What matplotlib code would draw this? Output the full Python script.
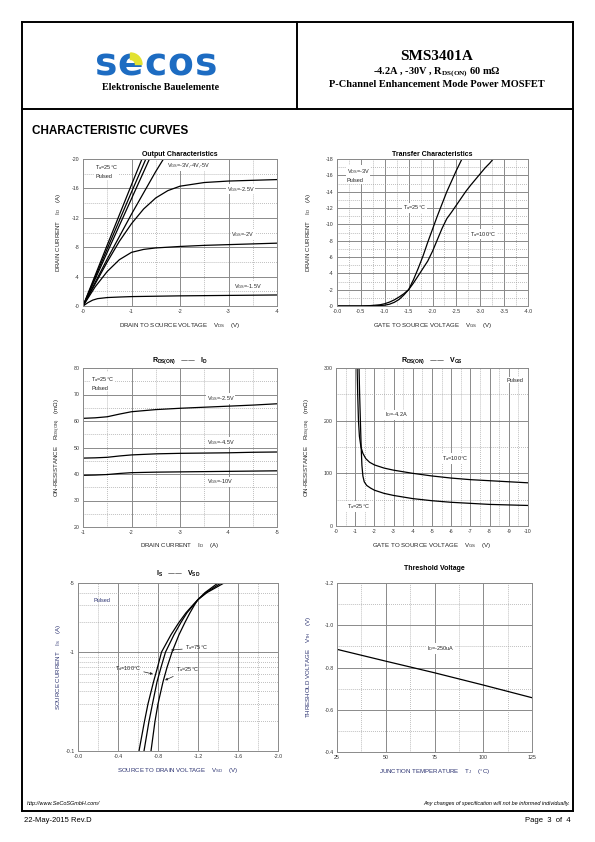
import numpy as np
import matplotlib
matplotlib.use('Agg')
import matplotlib.pyplot as plt
from matplotlib.patches import Wedge
from matplotlib.ticker import FixedLocator, FixedFormatter, NullFormatter

plt.rcParams['font.family'] = ['Liberation Sans', 'DejaVu Sans']
plt.rcParams['mathtext.default'] = 'regular'
plt.rcParams['axes.unicode_minus'] = False

W, H = 595, 842

# ---------------- data ----------------
# Output characteristics (VDS in V, ID in A)
out_vds_steep = [0, -0.5, -1.0, -1.5]
out_id_steep1 = [0, -8.3, -16.5, -24.6]
out_id_steep2 = [0, -7.8, -15.5, -23.1]
out_id_steep3 = [0, -7.3, -14.6, -21.9]
out_vds_vgs3 = [0, -0.5, -1.0, -1.5, -1.8]
out_id_vgs3 = [0, -6.4, -12.5, -18.3, -21.5]
out_vds_vgs25 = [0, -0.25, -0.5, -0.75, -1.0, -1.25, -1.5, -1.75, -2.0, -2.5, -3.0, -3.5, -4.0]
out_id_vgs25 = [0, -3.0, -6.0, -8.8, -11.2, -13.2, -14.7, -15.7, -16.3, -16.8, -17.0, -17.1, -17.2]
out_vds_vgs2 = [0, -0.25, -0.5, -0.75, -1.0, -1.25, -1.5, -2.0, -2.5, -3.0, -3.5, -4.0]
out_id_vgs2 = [0, -2.6, -4.7, -6.3, -7.3, -7.7, -7.9, -8.1, -8.25, -8.35, -8.45, -8.55]
out_vds_vgs15 = [0, -0.1, -0.2, -0.3, -0.5, -0.75, -1.0, -2.0, -3.0, -4.0]
out_id_vgs15 = [0, -0.45, -0.8, -1.0, -1.15, -1.22, -1.28, -1.38, -1.44, -1.5]

# Transfer characteristics (VGS in V, ID in A)
tr_vgs_25 = [0, -0.5, -0.8, -1.0, -1.1, -1.2, -1.3, -1.4, -1.5, -1.6, -1.7, -1.8, -1.9,
             -2.0, -2.1, -2.2, -2.3, -2.4, -2.5, -2.6, -2.65]
tr_id_25 = [0, 0, -0.02, -0.1, -0.22, -0.45, -0.8, -1.35, -2.0, -3.2, -4.6, -6.1, -7.8,
            -9.4, -11.0, -12.5, -14.0, -15.3, -16.6, -17.8, -18.4]
tr_vgs_100 = [0, -0.5, -0.7, -0.9, -1.0, -1.1, -1.2, -1.3, -1.4, -1.5, -1.6, -1.7, -1.8,
              -1.9, -2.0, -2.1, -2.2, -2.3, -2.4, -2.5, -2.6, -2.7, -2.8, -2.9, -3.0,
              -3.1, -3.2, -3.3]
tr_id_100 = [0, 0, -0.05, -0.15, -0.28, -0.48, -0.75, -1.1, -1.5, -2.0, -2.8, -3.7, -4.6,
             -5.5, -6.7, -8.1, -9.5, -10.7, -11.5, -12.35, -13.2, -14.05, -14.8, -15.5,
             -16.2, -16.9, -17.5, -18.2]

# RDS(ON) vs ID (A, mOhm)
rid_id = [-1.0, -1.25, -1.5, -1.75, -2.0, -2.5, -3.0, -3.5, -4.0, -4.5, -5.0]
rid_vgs25 = [61.0, 61.2, 61.6, 62.6, 63.5, 64.3, 64.8, 65.2, 65.6, 66.0, 66.5]
rid_vgs45 = [46.0, 46.1, 46.3, 46.8, 47.2, 47.6, 47.8, 47.9, 48.0, 48.2, 48.3]
rid_vgs10 = [39.5, 39.6, 39.8, 40.2, 40.5, 40.7, 40.8, 40.9, 41.0, 41.1, 41.2]

# RDS(ON) vs VGS (V, mOhm)
rvg_vgs_100 = [-1.1, -1.13, -1.17, -1.22, -1.3, -1.4, -1.55, -1.75, -2.0, -2.5, -3.0,
               -4.0, -5.0, -6.0, -7.0, -8.0, -9.0, -10.0]
rvg_r_100 = [300, 250, 200, 170, 150, 138, 128, 121, 116, 110, 106, 100, 95, 91, 88, 86, 84, 82]
rvg_vgs_25 = [-1.2, -1.23, -1.27, -1.31, -1.35, -1.4, -1.47, -1.6, -1.8, -2.0, -2.5, -3.0,
              -4.0, -5.0, -6.0, -7.0, -8.0, -9.0, -10.0]
rvg_r_25 = [300, 250, 200, 150, 115, 95, 84, 77, 72, 68, 62, 58, 52, 48, 45, 43, 41, 40, 39]

# IS vs VSD (magnitude of IS in A, VSD in V)
isd_is = [0.1, 0.2, 0.3, 0.5, 0.7, 1.0, 1.5, 2.0, 2.5, 3.0, 3.4, 4.0, 5.0]
isd_vsd_25 = [-0.73, -0.77, -0.80, -0.85, -0.89, -0.94, -1.01, -1.07, -1.12, -1.165, -1.2, -1.27, -1.40]
isd_vsd_75 = [-0.66, -0.71, -0.745, -0.79, -0.83, -0.875, -0.96, -1.03, -1.09, -1.155, -1.2, -1.28, -1.43]
isd_vsd_100 = [-0.61, -0.665, -0.70, -0.755, -0.795, -0.835, -0.93, -1.01, -1.08, -1.15, -1.2, -1.29, -1.46]

# Threshold voltage vs junction temperature
vth_tj = [25, 50, 75, 100, 125]
vth_v = [-0.886, -0.83, -0.775, -0.717, -0.657]

# logo letters and their centres
logo_letters = ['s', 'e', 'c', 'o', 's']
logo_x = [106, 130, 155, 180, 206.5]

LINE = dict(color='black', lw=0.9)
fig = plt.figure(figsize=(W / 100, H / 100), dpi=100)

# ---------------- page frame / header / footer ----------------
page = fig.add_axes([0, 0, 1, 1])
page.set_xlim(0, W)
page.set_ylim(H, 0)
page.axis('off')
for xs, ys in [([22, 573], [22, 22]), ([22, 573], [109, 109]), ([22, 573], [811, 811]),
               ([22, 22], [22, 811]), ([573, 573], [22, 811]), ([297, 297], [22, 109])]:
    page.plot(xs, ys, color='black', lw=1.4, solid_capstyle='projecting')

for ch, xc in zip(logo_letters, logo_x):
    page.text(xc, 75.5, ch, ha='center', va='baseline', fontsize=27,
              family='DejaVu Sans', weight='bold', color='#1d6cc2')
page.add_patch(Wedge((130.5, 64.5), 11.5, 270, 360, width=6.5, color='#e2e231', zorder=5))
page.text(161, 89.5, 'Elektronische Bauelemente', ha='center', va='baseline', fontsize=7.2,
          family='Liberation Serif', weight='bold')
page.text(437, 60, 'SMS3401A', ha='center', va='baseline', fontsize=11,
          family='Liberation Serif', weight='bold')
page.text(437, 74, '-4.2A , -30V , R$_{DS(ON)}$ 60 m\u03a9', ha='center', va='baseline',
          fontsize=7.5, family='Liberation Serif', weight='bold')
page.text(437, 87, 'P-Channel Enhancement Mode Power MOSFET', ha='center', va='baseline',
          fontsize=7.5, family='Liberation Serif', weight='bold')
page.text(32, 134, 'CHARACTERISTIC CURVES', ha='left', va='baseline', fontsize=8.5, weight='bold')

page.text(27, 805, 'http://www.SeCoSGmbH.com/', ha='left', va='baseline', fontsize=4, style='italic')
page.text(570, 805, 'Any changes of specification will not be informed individually.',
          ha='right', va='baseline', fontsize=4, style='italic')
page.text(24, 822, '22-May-2015 Rev.D', ha='left', va='baseline', fontsize=5.5)
page.text(571, 822, 'Page  3  of  4', ha='right', va='baseline', fontsize=5.5)


def chart(l, t, r, b, xlim, ylim, xmaj, xlab, xmin, ymaj, ylab, ymin, logy=False):
    ax = fig.add_axes([l / W, 1 - b / H, (r - l) / W, (b - t) / H])
    if logy:
        ax.set_yscale('log')
    ax.set_xlim(*xlim)
    ax.set_ylim(*ylim)
    ax.xaxis.set_major_locator(FixedLocator(xmaj))
    ax.xaxis.set_major_formatter(FixedFormatter(xlab))
    ax.xaxis.set_minor_locator(FixedLocator(xmin))
    ax.yaxis.set_major_locator(FixedLocator(ymaj))
    ax.yaxis.set_major_formatter(FixedFormatter(ylab))
    ax.yaxis.set_minor_locator(FixedLocator(ymin))
    ax.yaxis.set_minor_formatter(NullFormatter())
    ax.grid(which='major', color='#8a8a8a', lw=0.7, ls='-')
    ax.grid(which='minor', color='#9a9a9a', lw=0.55, ls=(0, (1, 1.6)))
    ax.tick_params(which='both', length=0, labelsize=3.8, pad=2.5, colors='#333333')
    for s in ax.spines.values():
        s.set_color('#8a8a8a')
        s.set_linewidth(0.7)
    ax.set_axisbelow(True)
    return ax


def labels(ax, l, t, r, b, title, title_y, xlabel, xlabel_y, ylabel, ylabel_x, color='#222222'):
    ax.set_title(title, fontsize=5, weight='bold', pad=(t - title_y) * 0.72 - 2)
    ax.set_xlabel(xlabel, fontsize=4.4, color=color)
    ax.xaxis.set_label_coords(0.5, -(xlabel_y - b) / (b - t))
    ax.set_ylabel(ylabel, fontsize=4.4, color=color)
    ax.yaxis.set_label_coords((ylabel_x - l) / (r - l), 0.5)


BOX = dict(facecolor='white', edgecolor='none', pad=0.6)
TXT = dict(fontsize=4, color='#222222')
DEG = '\u00b0C'

# ---------- Output characteristics ----------
l, t, r, b = 83, 159, 277, 306
ax = chart(l, t, r, b, (0, -4), (0, -20),
           [0, -1, -2, -3, -4], ['-0', '-1', '-2', '-3', '-4'], [-0.5, -1.5, -2.5, -3.5],
           [0, -4, -8, -12, -16, -20], ['-0', '-4', '-8', '-12', '-16', '-20'],
           [-2, -6, -10, -14, -18])
labels(ax, l, t, r, b, 'Output Characteristics', 153, 'DRAIN TO SOURCE VOLTAGE    V$_{DS}$    (V)', 321,
       'DRAIN CURRENT    I$_D$    (A)', 63)
for yv in [out_id_steep1, out_id_steep2, out_id_steep3]:
    ax.plot(out_vds_steep, yv, **LINE)
ax.plot(out_vds_vgs3, out_id_vgs3, **LINE)
ax.plot(out_vds_vgs25, out_id_vgs25, **LINE)
ax.plot(out_vds_vgs2, out_id_vgs2, **LINE)
ax.plot(out_vds_vgs15, out_id_vgs15, **LINE)
ax.text(-0.25, -18.4, 'T$_a$=25' + DEG + '\nPulsed', va='center', ha='left', linespacing=1.5, bbox=BOX, **TXT)
ax.text(-1.73, -19.1, 'V$_{GS}$=-3V,-4V,-5V', va='center', ha='left', bbox=BOX, **TXT)
ax.text(-2.96, -15.9, 'V$_{GS}$=-2.5V', va='center', ha='left', bbox=BOX, **TXT)
ax.text(-3.06, -9.7, 'V$_{GS}$=-2V', va='center', ha='left', bbox=BOX, **TXT)
ax.text(-3.11, -2.7, 'V$_{GS}$=-1.5V', va='center', ha='left', bbox=BOX, **TXT)

# ---------- Transfer characteristics ----------
l, t, r, b = 337, 159, 528, 306
ax = chart(l, t, r, b, (0, -4), (0, -18),
           [0, -0.5, -1, -1.5, -2, -2.5, -3, -3.5, -4],
           ['-0.0', '-0.5', '-1.0', '-1.5', '-2.0', '-2.5', '-3.0', '-3.5', '-4.0'],
           np.arange(-0.25, -4, -0.5),
           list(range(0, -19, -2)), ['-0', '-2', '-4', '-6', '-8', '-10', '-12', '-14', '-16', '-18'],
           list(range(-1, -18, -2)))
labels(ax, l, t, r, b, 'Transfer Characteristics', 153, 'GATE TO SOURCE VOLTAGE    V$_{GS}$    (V)', 321,
       'DRAIN CURRENT    I$_D$    (A)', 313)
ax.plot(tr_vgs_25, tr_id_25, **LINE)
ax.plot(tr_vgs_100, tr_id_100, **LINE)
ax.text(-0.2, -16.0, 'V$_{DS}$=-3V\nPulsed', va='center', ha='left', linespacing=1.5, bbox=BOX, **TXT)
ax.text(-1.38, -12.0, 'T$_a$=25' + DEG, va='center', ha='left', bbox=BOX, **TXT)
ax.text(-2.79, -8.8, 'T$_a$=100' + DEG, va='center', ha='left', bbox=BOX, **TXT)

# ---------- RDS(ON) vs ID ----------
l, t, r, b = 83, 368, 277, 527
ax = chart(l, t, r, b, (-1, -5), (20, 80),
           [-1, -2, -3, -4, -5], ['-1', '-2', '-3', '-4', '-5'], [-1.5, -2.5, -3.5, -4.5],
           [20, 30, 40, 50, 60, 70, 80], ['20', '30', '40', '50', '60', '70', '80'],
           [25, 35, 45, 55, 65, 75])
labels(ax, l, t, r, b, 'R$_{DS(ON)}$   \u2014\u2014   I$_D$', 359, 'DRAIN CURRENT    I$_D$    (A)', 541,
       'ON-RESISTANCE    R$_{DS(ON)}$    (m\u03a9)', 63)
ax.plot(rid_id, rid_vgs25, **LINE)
ax.plot(rid_id, rid_vgs45, **LINE)
ax.plot(rid_id, rid_vgs10, **LINE)
ax.text(-1.17, 74.5, 'T$_a$=25' + DEG + '\nPulsed', va='center', ha='left', linespacing=1.5, bbox=BOX, **TXT)
ax.text(-3.55, 68.5, 'V$_{GS}$=-2.5V', va='center', ha='left', bbox=BOX, **TXT)
ax.text(-3.55, 52.0, 'V$_{GS}$=-4.5V', va='center', ha='left', bbox=BOX, **TXT)
ax.text(-3.55, 37.0, 'V$_{GS}$=-10V', va='center', ha='left', bbox=BOX, **TXT)

# ---------- RDS(ON) vs VGS ----------
l, t, r, b = 336, 368, 528, 526
ax = chart(l, t, r, b, (0, -10), (0, 300),
           list(range(0, -11, -1)), ['-0'] + ['-%d' % k for k in range(1, 11)],
           np.arange(-0.5, -10, -1.0),
           [0, 100, 200, 300], ['0', '100', '200', '300'], [50, 150, 250])
labels(ax, l, t, r, b, 'R$_{DS(ON)}$   \u2014\u2014   V$_{GS}$', 359,
       'GATE TO SOURCE VOLTAGE    V$_{GS}$    (V)', 541,
       'ON-RESISTANCE    R$_{DS(ON)}$    (m\u03a9)', 313)
ax.plot(rvg_vgs_100, rvg_r_100, **LINE)
ax.plot(rvg_vgs_25, rvg_r_25, **LINE)
ax.text(-8.9, 277, 'Pulsed', va='center', ha='left', bbox=BOX, **TXT)
ax.text(-2.55, 211, 'I$_D$=-4.2A', va='center', ha='left', bbox=BOX, **TXT)
ax.text(-5.5, 128, 'T$_a$=100' + DEG, va='center', ha='left', bbox=BOX, **TXT)
ax.text(-0.56, 37, 'T$_a$=25' + DEG, va='center', ha='left', bbox=BOX, **TXT)

# ---------- IS vs VSD ----------
NAVY = '#2a3170'
l, t, r, b = 78, 583, 278, 751
ax = chart(l, t, r, b, (0, -2.0), (0.1, 5), [0, -0.4, -0.8, -1.2, -1.6, -2.0],
           ['-0.0', '-0.4', '-0.8', '-1.2', '-1.6', '-2.0'], [-0.2, -0.6, -1.0, -1.4, -1.8],
           [0.1, 1, 5], ['-0.1', '-1', '-5'],
           [0.2, 0.3, 0.4, 0.5, 0.6, 0.7, 0.8, 0.9, 2, 3, 4], logy=True)
labels(ax, l, t, r, b, 'I$_S$   \u2014\u2014   V$_{SD}$', 573, 'SOURCE TO DRAIN VOLTAGE    V$_{SD}$    (V)', 766,
       'SOURCE CURRENT    I$_S$    (A)', 63, color=NAVY)
ax.plot(isd_vsd_100, isd_is, **LINE)
ax.plot(isd_vsd_75, isd_is, **LINE)
ax.plot(isd_vsd_25, isd_is, **LINE)
ax.text(-0.15, 3.3, 'Pulsed', va='center', ha='left', fontsize=4, color=NAVY)
ARW = dict(arrowstyle='-|>', lw=0.5, color='#222222', mutation_scale=3.5, shrinkA=0, shrinkB=0)
ax.annotate('T$_a$=75' + DEG, xy=(-0.93, 1.05), xytext=(-1.07, 1.1), va='center', ha='left',
            arrowprops=ARW, **TXT)
ax.annotate('T$_a$=100' + DEG, xy=(-0.75, 0.6), xytext=(-0.37, 0.69), va='center', ha='left',
            arrowprops=ARW, **TXT)
ax.annotate('T$_a$=25' + DEG, xy=(-0.87, 0.52), xytext=(-0.98, 0.66), va='center', ha='left',
            arrowprops=ARW, **TXT)

# ---------- Threshold voltage ----------
l, t, r, b = 337, 583, 532, 752
ax = chart(l, t, r, b, (25, 125), (-0.4, -1.2), [25, 50, 75, 100, 125],
           ['25', '50', '75', '100', '125'], [37.5, 62.5, 87.5, 112.5],
           [-1.2, -1.0, -0.8, -0.6, -0.4], ['-1.2', '-1.0', '-0.8', '-0.6', '-0.4'],
           [-1.1, -0.9, -0.7, -0.5])
labels(ax, l, t, r, b, 'Threshold Voltage', 567, 'JUNCTION TEMPERATURE    T$_J$    (' + DEG + ')', 767,
       'THRESHOLD VOLTAGE    V$_{TH}$    (V)', 313, color=NAVY)
ax.plot(vth_tj, vth_v, **LINE)
ax.text(71, -0.89, 'I$_D$=-250uA', va='center', ha='left', bbox=BOX, **TXT)

fig.savefig('out.png', dpi=100)
